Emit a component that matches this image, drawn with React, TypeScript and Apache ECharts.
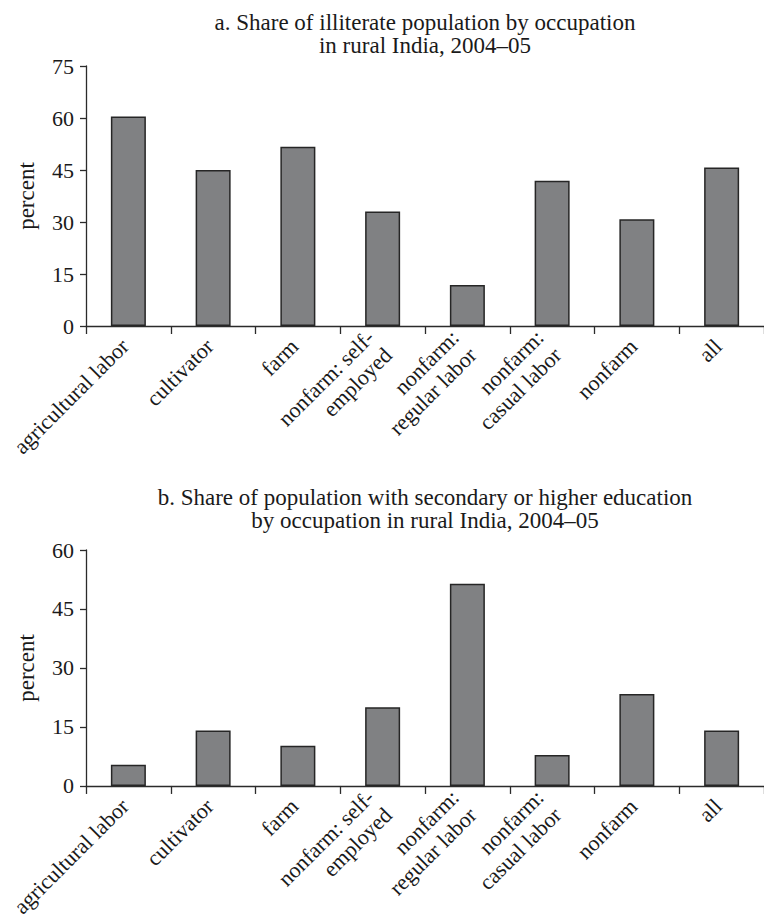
import React, { useEffect, useRef } from "react";
import * as echarts from "echarts";

const categories = [
  "agricultural labor",
  "cultivator",
  "farm",
  "nonfarm: self-\nemployed",
  "nonfarm:\nregular labor",
  "nonfarm:\ncasual labor",
  "nonfarm",
  "all",
];
const illiterateShare = [60.4, 45, 51.7, 33, 11.8, 41.9, 30.8, 45.7];
const secondaryShare = [5.4, 14.1, 10.2, 20.0, 51.4, 7.9, 23.4, 14.1];
const topTitleLines = ["a. Share of illiterate population by occupation", "in rural India, 2004–05"];
const bottomTitleLines = ["b. Share of population with secondary or higher education", "by occupation in rural India, 2004–05"];
const topAxisMax = 75;
const bottomAxisMax = 60;
const tickStep = 15;
const yName = "percent";

const FONT = "Liberation Serif";
const AXIS_COLOR = "#2b2b2b";
const TEXT_COLOR = "#1a1a1a";
const LABEL_SIZE = 22;
const LINE_H = 25;

function catData() {
  return categories.map((c) =>
    c.includes("\n")
      ? { value: c, textStyle: { padding: [LINE_H, 5, 0, 0] } }
      : { value: c, textStyle: { padding: [0, 5, 0, 0] } }
  );
}

function xAxisFor(gridIndex: number) {
  return {
    type: "category",
    gridIndex,
    data: catData(),
    boundaryGap: true,
    axisLine: { lineStyle: { color: AXIS_COLOR, width: 1.3 } },
    axisTick: { show: true, alignWithLabel: false, length: 8, lineStyle: { color: AXIS_COLOR, width: 1.3 } },
    axisLabel: {
      rotate: 45,
      interval: 0,
      margin: 13,
      color: TEXT_COLOR,
      fontFamily: FONT,
      fontSize: LABEL_SIZE,
      lineHeight: LINE_H,
    },
  };
}

function yAxisFor(gridIndex: number, max: number) {
  return {
    type: "value",
    gridIndex,
    min: 0,
    max,
    interval: tickStep,
    name: yName,
    nameLocation: "middle",
    nameGap: 48,
    nameRotate: 90,
    nameTextStyle: { color: TEXT_COLOR, fontFamily: FONT, fontSize: 23 },
    splitLine: { show: false },
    axisLine: { show: true, lineStyle: { color: AXIS_COLOR, width: 1.3 } },
    axisTick: { show: true, length: 6, lineStyle: { color: AXIS_COLOR, width: 1.3 } },
    axisLabel: { margin: 12, color: TEXT_COLOR, fontFamily: FONT, fontSize: 22 },
  };
}

function barSeries(idx: number, data: number[]) {
  return {
    type: "bar",
    xAxisIndex: idx,
    yAxisIndex: idx,
    data,
    barWidth: 35,
    itemStyle: { color: "#808183", borderColor: "#262626", borderWidth: 1.5 },
    emphasis: { disabled: true },
  };
}

function titleText(lines: string[], y0: number) {
  return lines.map((t, i) => ({
    type: "text",
    x: 425,
    y: y0 + i * 23,
    style: {
      text: t,
      fill: TEXT_COLOR,
      font: `23px "${FONT}"`,
      textAlign: "center",
      textVerticalAlign: "middle",
    },
  }));
}

export default function App() {
  const ref = useRef<HTMLDivElement>(null);
  useEffect(() => {
    if (!ref.current) return;
    const chart = echarts.init(ref.current, undefined, { renderer: "svg" });
    chart.setOption({
      animation: false,
      backgroundColor: "#ffffff",
      grid: [
        { left: 86, top: 66, width: 680, height: 260 },
        { left: 86, top: 550, width: 680, height: 237.5 },
      ],
      xAxis: [xAxisFor(0), xAxisFor(1)],
      yAxis: [yAxisFor(0, topAxisMax), yAxisFor(1, bottomAxisMax)],
      series: [barSeries(0, illiterateShare), barSeries(1, secondaryShare)],
      graphic: [...titleText(topTitleLines, 22), ...titleText(bottomTitleLines, 497)],
    });
    return () => chart.dispose();
  }, []);
  return (
    <div
      ref={ref}
      style={{ position: "absolute", left: 0, top: 0, width: 764, height: 921 }}
    />
  );
}
